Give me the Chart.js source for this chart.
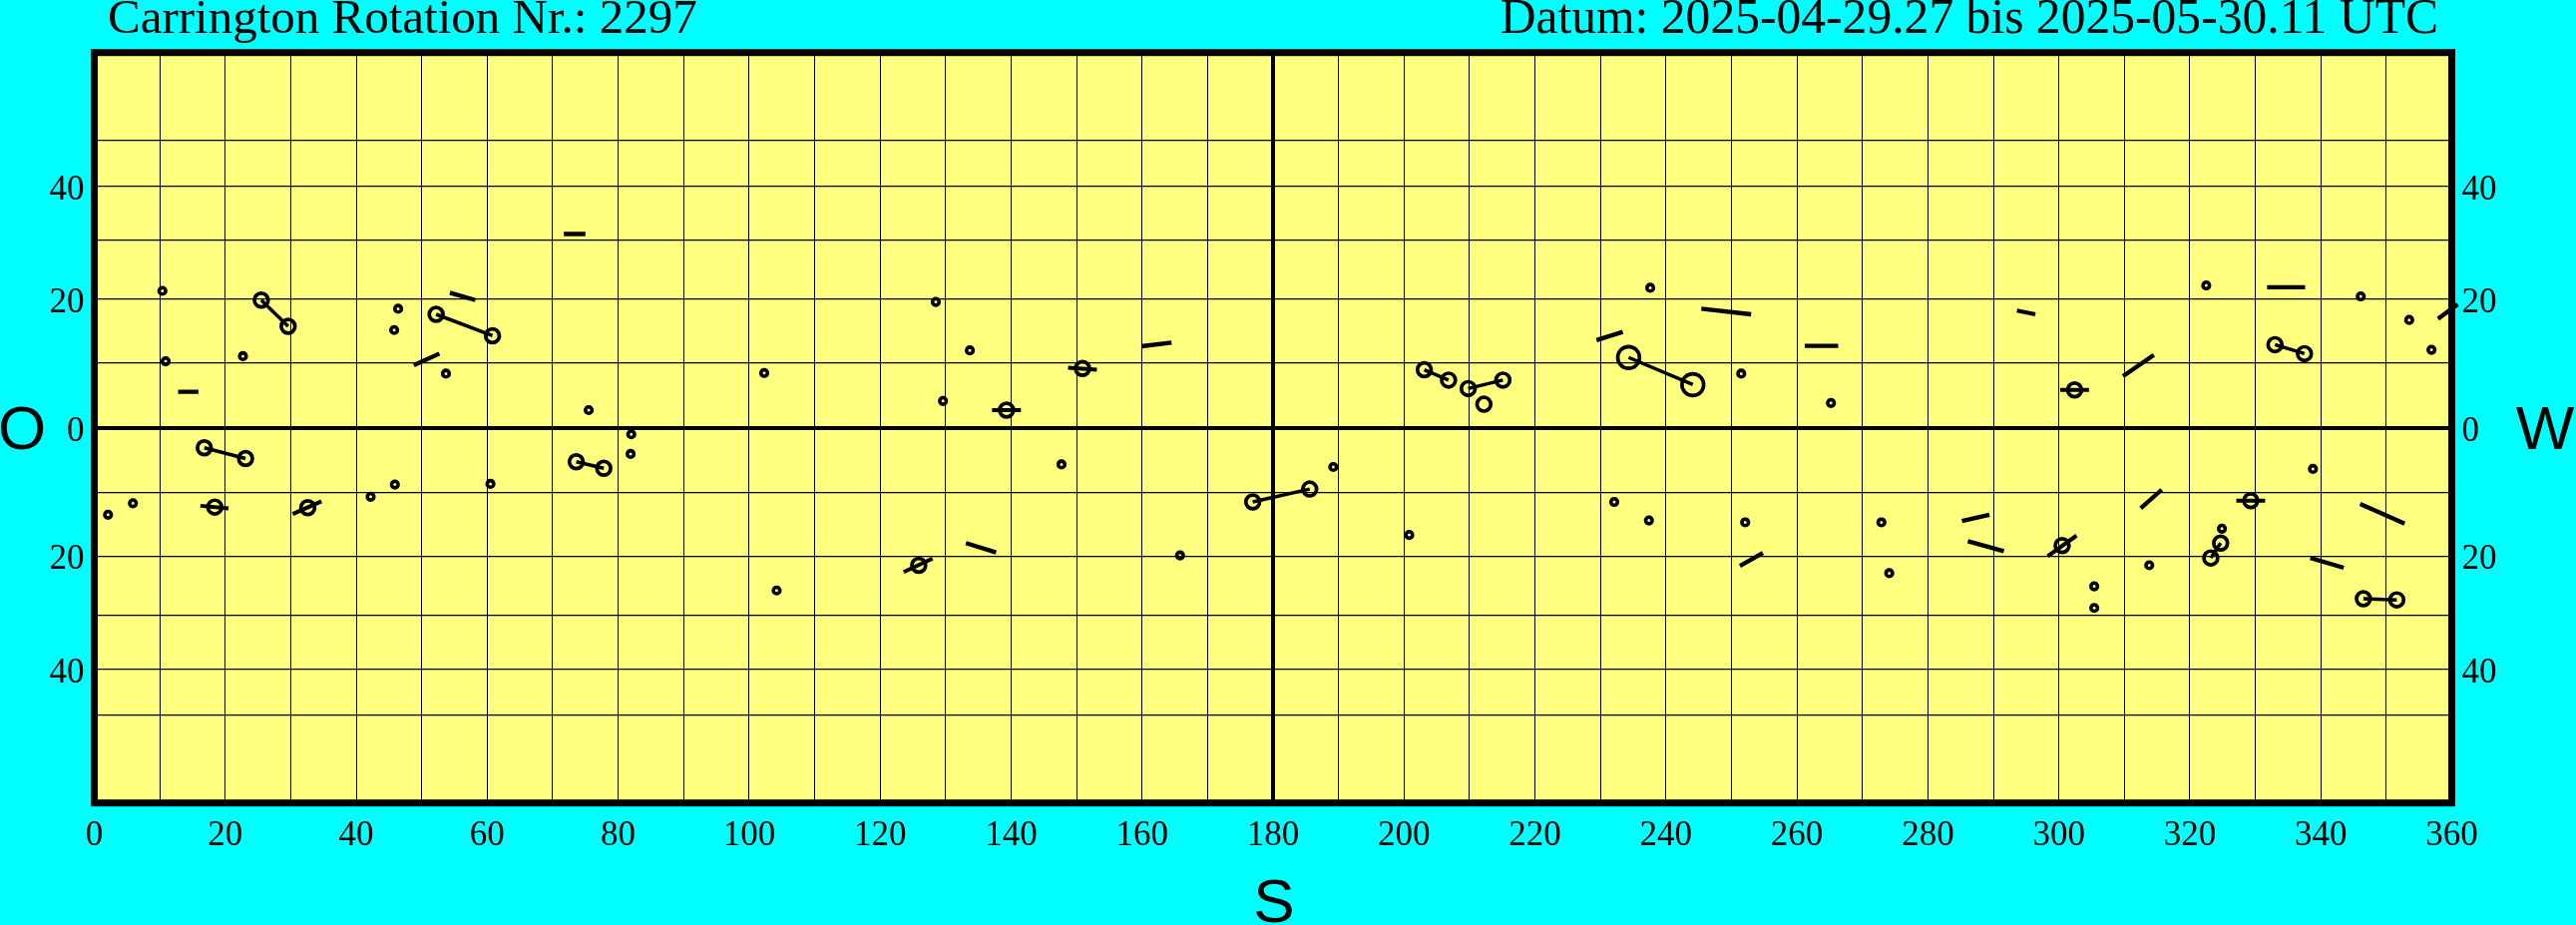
<!DOCTYPE html>
<html>
<head>
<meta charset="utf-8">
<title>Carrington Rotation 2297</title>
<script src="https://cdn.jsdelivr.net/npm/chart.js@4/dist/chart.umd.min.js"></script>
<style>
  html, body { margin: 0; padding: 0; background: #00ffff; overflow: hidden; }
  #wrap { width: 2582px; height: 927px; position: relative; }
</style>
</head>
<body>
<div id="wrap"><canvas id="map"></canvas></div>
<script>
// header texts
const titleLeft = "Carrington Rotation Nr.: 2297";
const titleRight = "Datum: 2025-04-29.27 bis 2025-05-30.11 UTC";

// axes: Carrington longitude (x) and heliographic latitude (y, drawn as sin(lat))
const lonTicks = [0, 10, 20, 30, 40, 50, 60, 70, 80, 90, 100, 110, 120, 130, 140, 150, 160, 170, 180,
  190, 200, 210, 220, 230, 240, 250, 260, 270, 280, 290, 300, 310, 320, 330, 340, 350, 360];
const lonLabels = [0, 20, 40, 60, 80, 100, 120, 140, 160, 180, 200, 220, 240, 260, 280, 300, 320, 340, 360];
const latGrid = [-50, -40, -30, -20, -10, 0, 10, 20, 30, 40, 50];
const latLabels = [-40, -20, 0, 20, 40];

// spots [lon, lat] in degrees
const spotsSmall = [
  [10.4, 21.4], [10.9, 10.2], [22.7, 11.0], [46.4, 18.5], [45.8, 15.1], [53.7, 8.3],
  [2.1, -13.4], [5.9, -11.6], [42.2, -10.6], [45.9, -8.7], [60.5, -8.6],
  [75.5, 2.7], [82.0, -1.0], [81.9, -4.0], [102.3, 8.4], [104.2, -25.7],
  [128.5, 19.6], [133.7, 11.9], [129.6, 4.1], [147.7, -5.6], [165.8, -19.9],
  [189.2, -6.0], [200.8, -16.6], [237.6, 21.9], [232.1, -11.4], [237.4, -14.3],
  [251.5, 8.3], [265.2, 3.8], [252.1, -14.6], [272.9, -14.6], [274.1, -22.8],
  [322.5, 22.3], [346.1, 20.5], [353.5, 16.7], [356.9, 12.0], [338.8, -6.3],
  [324.9, -15.6], [313.8, -21.5], [305.4, -25.0], [305.4, -28.7]
];
const spotsMedium = [
  [25.5, 19.9], [29.6, 15.7], [52.2, 17.6], [60.8, 14.2], [16.8, -3.05], [23.1, -4.7],
  [73.6, -5.2], [77.8, -6.2], [176.9, -11.4], [185.6, -9.4],
  [203.1, 8.9], [206.8, 7.3], [209.8, 6.0], [215.1, 7.3], [212.2, 3.6],
  [333.0, 12.8], [337.5, 11.4], [324.7, -17.9], [323.2, -20.3], [346.5, -27.1], [351.6, -27.3],
  [18.4, -12.2], [32.6, -12.3], [139.3, 2.7], [150.9, 9.1], [125.9, -21.5],
  [302.4, 5.8], [300.5, -18.3], [329.3, -11.2]
];
const spotsLarge = [[234.3, 10.8], [244.1, 6.6]];

// center-to-center links of bipolar groups
const groupLinks = [
  [[25.5, 19.9], [29.6, 15.7]], [[52.2, 17.6], [60.8, 14.2]], [[16.8, -3.05], [23.1, -4.7]],
  [[73.6, -5.2], [77.8, -6.2]], [[176.9, -11.4], [185.6, -9.4]], [[203.1, 8.9], [206.8, 7.3]],
  [[209.8, 6.0], [215.1, 7.3]], [[234.3, 10.8], [244.1, 6.6]], [[333.0, 12.8], [337.5, 11.4]],
  [[324.7, -17.9], [323.2, -20.3]], [[346.5, -27.1], [351.6, -27.3]]
];

// bars through single spots
const spotBars = [
  [[16.2, -12.0], [20.5, -12.4]], [[30.3, -13.3], [34.7, -11.3]], [[137.1, 2.7], [141.5, 2.7]],
  [[148.7, 9.2], [153.1, 8.9]], [[123.6, -22.6], [128.0, -20.4]], [[300.2, 5.8], [304.6, 5.8]],
  [[298.3, -20.0], [302.7, -16.7]], [[327.1, -11.2], [331.5, -11.2]]
];

// plage / field dashes
const dashes = [
  [[12.8, 5.5], [15.9, 5.5]], [[54.3, 21.1], [58.2, 19.9]], [[48.8, 9.6], [52.7, 11.4]],
  [[71.7, 31.1], [75.0, 31.1]], [[159.9, 12.55], [164.5, 13.1]], [[133.1, -17.9], [137.7, -19.4]],
  [[229.4, 13.5], [233.4, 14.8]], [[245.4, 18.5], [253.0, 17.6]], [[261.2, 12.6], [266.3, 12.6]],
  [[293.6, 18.2], [296.4, 17.6]], [[251.3, -21.6], [254.8, -19.5]], [[285.2, -14.4], [289.4, -13.4]],
  [[286.1, -17.6], [291.6, -19.2]], [[331.8, 22.0], [337.6, 22.0]], [[357.9, 16.9], [360.9, 19.2]],
  [[309.8, 7.9], [314.5, 11.2]], [[312.5, -12.4], [315.7, -9.5]], [[346.0, -11.7], [352.8, -14.8]],
  [[338.4, -20.3], [343.5, -21.9]]
];

const rad = Math.PI / 180;
const sinLat = (lat) => Math.sin(lat * rad);
const toPoint = ([lon, lat]) => ({ x: lon, y: sinLat(lat) });
const toSegments = (segs) =>
  segs.flatMap(([a, b]) => [toPoint(a), toPoint(b), { x: b[0], y: null }]);
const latOf = (v) => Math.round(Math.asin(Math.max(-1, Math.min(1, v))) / rad);

const serif = "'Liberation Serif', 'Times New Roman', serif";
const sans = "'Liberation Sans', Arial, sans-serif";

const lineSet = (data, width) => ({
  type: "scatter",
  data,
  showLine: true,
  spanGaps: false,
  borderColor: "#000",
  borderWidth: width,
  borderCapStyle: "butt",
  pointRadius: 0,
  pointHoverRadius: 0,
  clip: false,
});

const ringSet = (data, radius, width) => ({
  data,
  pointRadius: radius,
  pointHoverRadius: radius,
  pointBorderWidth: width,
  pointBorderColor: "#000",
  pointBackgroundColor: "rgba(0,0,0,0)",
  showLine: false,
});

const latAxis = (position, drawGrid, pad) => ({
  type: "linear",
  position,
  min: -1,
  max: 1,
  afterBuildTicks: (scale) => {
    scale.ticks = latGrid.map((l) => ({ value: sinLat(l) }));
  },
  afterFit: (scale) => {
    scale.width = pad;
  },
  border: { display: false },
  grid: {
    display: drawGrid,
    drawTicks: false,
    color: "#000",
    lineWidth: (ctx) => (ctx.tick && latOf(ctx.tick.value) === 0 ? 4 : 1.3),
  },
  ticks: {
    padding: 10,
    labelOffset: 4,
    color: "#000",
    font: { family: serif, size: 35 },
    callback: (v) => {
      const l = latOf(v);
      return latLabels.includes(l) ? String(Math.abs(l)) : "";
    },
  },
});

const paintFrame = {
  id: "paintFrame",
  beforeDraw(chart) {
    const { ctx, chartArea: a } = chart;
    ctx.save();
    ctx.fillStyle = "#ffff80";
    ctx.fillRect(a.left, a.top, a.right - a.left, a.bottom - a.top);
    ctx.restore();
  },
  beforeDatasetsDraw(chart) {
    const { ctx, chartArea: a } = chart;
    ctx.save();
    ctx.strokeStyle = "#000";
    ctx.lineWidth = 7;
    ctx.strokeRect(a.left, a.top, a.right - a.left, a.bottom - a.top);
    ctx.restore();
  },
  afterDraw(chart) {
    const { ctx } = chart;
    ctx.save();
    ctx.fillStyle = "#000";
    ctx.textBaseline = "alphabetic";
    ctx.font = "49px " + serif;
    ctx.textAlign = "left";
    ctx.fillText(titleLeft, 108, 33);
    ctx.font = "49.6px " + serif;
    ctx.textAlign = "right";
    ctx.fillText(titleRight, 2444, 33);
    ctx.font = "62px " + sans;
    ctx.textAlign = "center";
    ctx.fillText("O", 22, 450);
    ctx.fillText("W", 2551, 450);
    ctx.fillText("S", 1277, 924);
    ctx.restore();
  },
};

new Chart(document.getElementById("map"), {
  type: "scatter",
  data: {
    datasets: [
      lineSet(toSegments(groupLinks), 3.5),
      lineSet(toSegments(spotBars), 4),
      lineSet(toSegments(dashes), 4.3),
      ringSet(spotsSmall.map(toPoint), 3.3, 3.6),
      ringSet(spotsMedium.map(toPoint), 6.9, 3.7),
      ringSet(spotsLarge.map(toPoint), 10.9, 3.6),
    ],
  },
  options: {
    responsive: true,
    maintainAspectRatio: false,
    animation: false,
    events: [],
    layout: { padding: { top: 52.7, left: 0, right: 0, bottom: 0 } },
    plugins: { legend: { display: false }, tooltip: { enabled: false }, title: { display: false } },
    scales: {
      x: {
        type: "linear",
        min: 0,
        max: 360,
        afterBuildTicks: (scale) => {
          scale.ticks = lonTicks.map((v) => ({ value: v }));
        },
        afterFit: (scale) => {
          scale.height = 122.3;
        },
        border: { display: false },
        grid: {
          drawTicks: false,
          color: "#000",
          lineWidth: (ctx) => (ctx.tick && ctx.tick.value === 180 ? 4 : 1),
        },
        ticks: {
          autoSkip: false,
          maxRotation: 0,
          minRotation: 0,
          padding: 12,
          color: "#000",
          font: { family: serif, size: 35 },
          callback: (v) => (lonLabels.includes(v) ? String(v) : ""),
        },
      },
      y: latAxis("left", true, 94.5),
      y2: latAxis("right", false, 124.5),
    },
  },
  plugins: [paintFrame],
});
</script>
</body>
</html>
